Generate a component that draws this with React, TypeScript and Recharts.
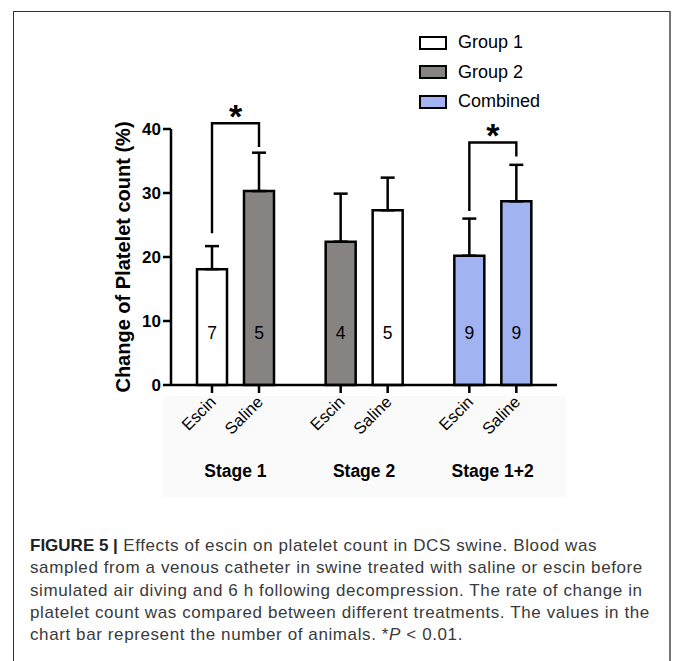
import React from 'react';
import { BarChart, Bar, XAxis, YAxis, ErrorBar, Cell, LabelList, Legend } from 'recharts';

const stages = ['Stage 1', 'Stage 2', 'Stage 1+2'];
const escinMean = [18.1, 22.4, 20.2];
const escinSem = [3.6, 7.5, 5.8];
const salineMean = [30.3, 27.3, 28.7];
const salineSem = [6.0, 5.1, 5.7];
const escinN = [7, 4, 9];
const salineN = [5, 5, 9];
const escinGroup = ['Group 1', 'Group 2', 'Combined'];
const salineGroup = ['Group 2', 'Group 1', 'Combined'];
// significance brackets (value units): top of bracket, end of escin leg, end of saline leg
const sigTop = [40.9, null, 37.9];
const sigEscinEnd = [23.7, null, 27.2];
const sigSalineEnd = [37.2, null, 35.7];
const yTicks = [0, 10, 20, 30, 40];

const groupNames = ['Group 1', 'Group 2', 'Combined'];
const groupFill: Record<string, string> = {
  'Group 1': '#ffffff',
  'Group 2': '#878383',
  Combined: '#a1b4f1',
};

const captionLines = [
  ' Effects of escin on platelet count in DCS swine. Blood was',
  'sampled from a venous catheter in swine treated with saline or escin before',
  'simulated air diving and 6 h following decompression. The rate of change in',
  'platelet count was compared between different treatments. The values in the',
  'chart bar represent the number of animals. *',
];

const data = stages.map((stage, i) => ({
  stage,
  escin: escinMean[i],
  saline: salineMean[i],
  escinErr: [0, escinSem[i]],
  salineErr: [0, salineSem[i]],
}));

const FONT = '"Liberation Sans", Arial, Helvetica, sans-serif';
const BAR = 30;
const GAP = 17;

const makeBarLabel = (name: string, counts: number[], withBracket: boolean) => (props: any) => {
  const vb = props.viewBox && props.viewBox.width !== undefined ? props.viewBox : props;
  const { x, y, width, height } = vb;
  const i = props.index;
  const value = Number(props.value);
  const cx = x + width / 2;
  const base = y + height;
  const ppu = height / value;
  const lx = cx + 5;
  const ly = base + 18;
  const top = sigTop[i];
  let bracket = null;
  if (withBracket && top != null) {
    const ex = cx - (width + GAP);
    const yTop = base - top * ppu;
    const yL = base - (sigEscinEnd[i] as number) * ppu;
    const yR = base - (sigSalineEnd[i] as number) * ppu;
    bracket = (
      <g>
        <path d={`M${ex},${yL}V${yTop}H${cx}V${yR}`} fill="none" stroke="#000" strokeWidth={2.4} />
        <text x={(ex + cx) / 2} y={yTop + 5} textAnchor="middle" fontSize={34} fontWeight="bold" fontFamily={FONT} fill="#000">*</text>
      </g>
    );
  }
  return (
    <g>
      <line x1={cx} x2={cx} y1={base} y2={base + 8} stroke="#000" strokeWidth={2.5} />
      <text x={lx} y={ly} transform={`rotate(-45 ${lx} ${ly})`} textAnchor="end" fontSize={16.5} fontFamily={FONT} fill="#000">{name}</text>
      <text x={cx} y={base - 52} textAnchor="middle" dominantBaseline="central" fontSize={17.5} fontFamily={FONT} fill="#000">{counts[i]}</text>
      {bracket}
    </g>
  );
};

const StageTick = (props: any) => {
  const { x, y, payload } = props;
  return (
    <text x={x} y={y + 84} textAnchor="middle" fontSize={17.5} fontWeight="bold" fontFamily={FONT} fill="#000">
      {payload.value}
    </text>
  );
};

const YLabel = (props: any) => {
  const vb = props.viewBox;
  const cx = vb.x + 23;
  const cy = vb.y + vb.height / 2;
  return (
    <text x={cx} y={cy} transform={`rotate(-90 ${cx} ${cy})`} textAnchor="middle" dominantBaseline="central" fontSize={20} fontWeight="bold" fontFamily={FONT} fill="#000">
      Change of Platelet count (%)
    </text>
  );
};

const LegendBox = () => (
  <div style={{ fontFamily: FONT }}>
    {groupNames.map((g) => (
      <div key={g} style={{ display: 'flex', alignItems: 'center', height: 29.5 }}>
        <div style={{ width: 24, height: 10, border: '2.5px solid #000', background: groupFill[g], marginRight: 11 }} />
        <span style={{ fontSize: 18, color: '#000' }}>{g}</span>
      </div>
    ))}
  </div>
);

export default function App() {
  return (
    <div style={{ position: 'absolute', left: 0, top: 0, width: 673, height: 661, overflow: 'hidden', background: '#fff' }}>
      <div style={{ position: 'absolute', left: 13, top: 11, width: 655, height: 720, borderTop: '1.5px solid #333', borderLeft: '1.5px solid #333', borderRight: '2px solid #777' }} />
      <div style={{ position: 'absolute', left: 163, top: 396, width: 403, height: 101, background: '#fafafa' }} />
      <div style={{ position: 'absolute', left: 0, top: 0 }}>
        <BarChart width={673} height={520} data={data} margin={{ top: 129, right: 116, left: 100, bottom: 35 }} barSize={BAR} barGap={GAP}>
          <XAxis dataKey="stage" height={100} axisLine={{ stroke: '#000', strokeWidth: 2.5 }} tickLine={false} tick={<StageTick />} interval={0} />
          <YAxis width={71} domain={[0, 40]} ticks={yTicks} tickSize={8} tickMargin={2} interval={0}
            axisLine={{ stroke: '#000', strokeWidth: 2.5 }} tickLine={{ stroke: '#000', strokeWidth: 2.5 }}
            tick={{ fill: '#000', fontSize: 17, fontWeight: 'bold', fontFamily: FONT }}
            label={<YLabel />} />
          <Legend layout="vertical" align="center" verticalAlign="middle" content={<LegendBox />}
            wrapperStyle={{ position: 'absolute', left: 419, top: 28, width: 150 }} />
          <Bar dataKey="escin" stroke="#000" strokeWidth={2.5} isAnimationActive={false}>
            {data.map((d, i) => <Cell key={d.stage} fill={groupFill[escinGroup[i]]} />)}
            <ErrorBar dataKey="escinErr" direction="y" width={7} stroke="#000" strokeWidth={2.5} />
            <LabelList dataKey="escin" content={makeBarLabel('Escin', escinN, false)} />
          </Bar>
          <Bar dataKey="saline" stroke="#000" strokeWidth={2.5} isAnimationActive={false}>
            {data.map((d, i) => <Cell key={d.stage} fill={groupFill[salineGroup[i]]} />)}
            <ErrorBar dataKey="salineErr" direction="y" width={7} stroke="#000" strokeWidth={2.5} />
            <LabelList dataKey="saline" content={makeBarLabel('Saline', salineN, true)} />
          </Bar>
        </BarChart>
      </div>
      <div style={{ position: 'absolute', left: 30, top: 535, fontFamily: FONT, fontSize: 17, letterSpacing: 0.6, lineHeight: '22.3px', color: '#3a3a3a', whiteSpace: 'nowrap' }}>
        {captionLines.map((line, i) => (
          <div key={i}>
            {i === 0 && <b style={{ color: '#222', letterSpacing: 0 }}>FIGURE 5 |</b>}
            {line}
            {i === captionLines.length - 1 && <><i>P</i> &lt; 0.01.</>}
          </div>
        ))}
      </div>
    </div>
  );
}
